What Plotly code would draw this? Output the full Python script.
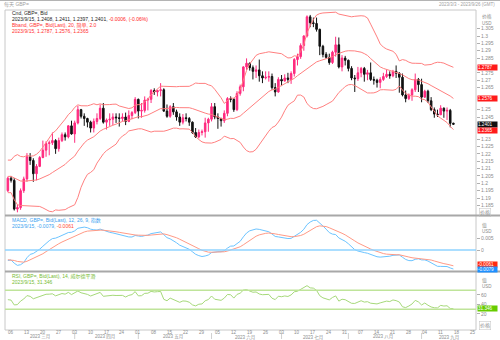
import numpy as np
import pandas as pd
import plotly.graph_objects as go

# Closes used only to warm up the indicators (2023-01-03 .. 2023-03-02)
warmup_close = [
    1.1970, 1.2055, 1.1940, 1.2085, 1.2190, 1.2155, 1.2150, 1.2215, 1.2230, 1.2200,
    1.2290, 1.2350, 1.2390, 1.2395, 1.2370, 1.2335, 1.2410, 1.2400, 1.2395, 1.2325,
    1.2320, 1.2415, 1.2230, 1.2055, 1.2020, 1.2040, 1.2070, 1.2125, 1.2060, 1.2140,
    1.2175, 1.2040, 1.1995, 1.2030, 1.2045, 1.2095, 1.2050, 1.2000, 1.1945, 1.2065,
    1.2025, 1.2035, 1.1950,
]

# Daily GBP/USD bid candles, 2023-03-03 .. 2023-09-15
open_ = [
    1.1950, 1.2035, 1.2020, 1.1825, 1.1835, 1.1950, 1.2030, 1.2180, 1.2155, 1.2065,
    1.2115, 1.2175, 1.2225, 1.2270, 1.2275, 1.2290, 1.2235, 1.2290, 1.2330, 1.2315,
    1.2390,
    1.2335, 1.2410, 1.2500, 1.2455, 1.2440, 1.2415, 1.2375, 1.2420, 1.2440, 1.2510,
    1.2415, 1.2430, 1.2435, 1.2450, 1.2445, 1.2440, 1.2450, 1.2420, 1.2460, 1.2480,
    1.2570, 1.2490, 1.2495, 1.2565, 1.2570, 1.2630, 1.2620, 1.2630, 1.2635, 1.2490,
    1.2455, 1.2520, 1.2485, 1.2450, 1.2415, 1.2445, 1.2440, 1.2415, 1.2345, 1.2315,
    1.2345, 1.2350, 1.2410,
    1.2435, 1.2520, 1.2450, 1.2440, 1.2425, 1.2475, 1.2575, 1.2570, 1.2500, 1.2610,
    1.2655, 1.2790, 1.2815, 1.2785, 1.2760, 1.2770, 1.2730, 1.2715, 1.2720, 1.2725,
    1.2650, 1.2620,
    1.2705, 1.2695, 1.2715, 1.2705, 1.2745, 1.2840, 1.2860, 1.2935, 1.3000, 1.3130,
    1.3090, 1.3085, 1.3045, 1.2930, 1.2875, 1.2855, 1.2820, 1.2890, 1.2940, 1.2790,
    1.2850,
    1.2835, 1.2780, 1.2715, 1.2710, 1.2750, 1.2780, 1.2740, 1.2750, 1.2705, 1.2700,
    1.2685, 1.2705, 1.2725, 1.2740, 1.2730, 1.2760, 1.2747, 1.2720, 1.2600, 1.2575,
    1.2600, 1.2635, 1.2705,
    1.2670, 1.2585, 1.2625, 1.2560, 1.2500, 1.2470, 1.2465, 1.2510, 1.2490, 1.2495,
    1.2408,
]
high = [
    1.2045, 1.2050, 1.2035, 1.1855, 1.1965, 1.2045, 1.2205, 1.2205, 1.2170, 1.2130,
    1.2185, 1.2290, 1.2285, 1.2290, 1.2345, 1.2300, 1.2310, 1.2345, 1.2345, 1.2395,
    1.2425,
    1.2425, 1.2525, 1.2505, 1.2475, 1.2445, 1.2425, 1.2440, 1.2475, 1.2535, 1.2545,
    1.2440, 1.2475, 1.2475, 1.2475, 1.2475, 1.2475, 1.2480, 1.2495, 1.2490, 1.2585,
    1.2575, 1.2545, 1.2590, 1.2580, 1.2640, 1.2645, 1.2635, 1.2680, 1.2645, 1.2535,
    1.2530, 1.2545, 1.2500, 1.2475, 1.2470, 1.2475, 1.2450, 1.2420, 1.2375, 1.2365,
    1.2365, 1.2445, 1.2445,
    1.2545, 1.2545, 1.2475, 1.2445, 1.2495, 1.2585, 1.2590, 1.2580, 1.2625, 1.2670,
    1.2795, 1.2848, 1.2820, 1.2800, 1.2800, 1.2840, 1.2760, 1.2760, 1.2760, 1.2745,
    1.2680, 1.2720,
    1.2735, 1.2740, 1.2750, 1.2760, 1.2850, 1.2880, 1.2950, 1.3005, 1.3140, 1.3143,
    1.3125, 1.3125, 1.3050, 1.2940, 1.2890, 1.2880, 1.2900, 1.2995, 1.2990, 1.2870,
    1.2865,
    1.2840, 1.2795, 1.2735, 1.2790, 1.2790, 1.2790, 1.2770, 1.2820, 1.2725, 1.2710,
    1.2720, 1.2750, 1.2770, 1.2760, 1.2770, 1.2800, 1.2755, 1.2745, 1.2630, 1.2610,
    1.2645, 1.2745, 1.2715,
    1.2710, 1.2635, 1.2635, 1.2585, 1.2515, 1.2500, 1.2530, 1.2515, 1.2515, 1.2505,
    1.2411,
]
low = [
    1.1940, 1.2005, 1.1815, 1.1803, 1.1820, 1.1935, 1.2010, 1.2125, 1.2010, 1.2020,
    1.2110, 1.2170, 1.2180, 1.2190, 1.2260, 1.2200, 1.2215, 1.2280, 1.2290, 1.2305,
    1.2330,
    1.2275, 1.2400, 1.2440, 1.2390, 1.2380, 1.2345, 1.2345, 1.2400, 1.2430, 1.2405,
    1.2365, 1.2390, 1.2395, 1.2410, 1.2385, 1.2420, 1.2395, 1.2415, 1.2435, 1.2470,
    1.2440, 1.2445, 1.2480, 1.2495, 1.2545, 1.2600, 1.2590, 1.2590, 1.2485, 1.2445,
    1.2445, 1.2465, 1.2425, 1.2390, 1.2400, 1.2420, 1.2390, 1.2335, 1.2308, 1.2305,
    1.2325, 1.2310, 1.2350,
    1.2420, 1.2435, 1.2370, 1.2385, 1.2410, 1.2455, 1.2550, 1.2485, 1.2490, 1.2595,
    1.2625, 1.2770, 1.2765, 1.2705, 1.2715, 1.2690, 1.2680, 1.2705, 1.2690, 1.2635,
    1.2590, 1.2615,
    1.2660, 1.2690, 1.2680, 1.2675, 1.2725, 1.2800, 1.2845, 1.2900, 1.2990, 1.3060,
    1.3060, 1.3030, 1.2870, 1.2855, 1.2845, 1.2805, 1.2810, 1.2860, 1.2780, 1.2760,
    1.2800,
    1.2760, 1.2700, 1.2620, 1.2695, 1.2720, 1.2690, 1.2700, 1.2695, 1.2670, 1.2650,
    1.2645, 1.2695, 1.2715, 1.2710, 1.2720, 1.2715, 1.2615, 1.2590, 1.2550, 1.2565,
    1.2560, 1.2620, 1.2620,
    1.2550, 1.2580, 1.2545, 1.2490, 1.2445, 1.2450, 1.2465, 1.2445, 1.2430, 1.2380,
    1.2397,
]
close = [
    1.2035, 1.2020, 1.1825, 1.1835, 1.1950, 1.2030, 1.2180, 1.2155, 1.2065, 1.2115,
    1.2175, 1.2225, 1.2270, 1.2275, 1.2290, 1.2235, 1.2290, 1.2330, 1.2315, 1.2390,
    1.2335,
    1.2410, 1.2500, 1.2455, 1.2440, 1.2415, 1.2375, 1.2420, 1.2440, 1.2510, 1.2415,
    1.2430, 1.2435, 1.2450, 1.2445, 1.2440, 1.2450, 1.2420, 1.2460, 1.2480, 1.2570,
    1.2490, 1.2495, 1.2565, 1.2570, 1.2630, 1.2620, 1.2630, 1.2635, 1.2490, 1.2455,
    1.2520, 1.2485, 1.2450, 1.2415, 1.2445, 1.2440, 1.2415, 1.2345, 1.2315, 1.2345,
    1.2350, 1.2410, 1.2435,
    1.2520, 1.2450, 1.2440, 1.2425, 1.2475, 1.2575, 1.2570, 1.2500, 1.2610, 1.2655,
    1.2790, 1.2815, 1.2785, 1.2760, 1.2770, 1.2730, 1.2715, 1.2720, 1.2725, 1.2650,
    1.2620, 1.2705,
    1.2695, 1.2715, 1.2705, 1.2745, 1.2840, 1.2860, 1.2935, 1.3000, 1.3130, 1.3090,
    1.3085, 1.3045, 1.2930, 1.2875, 1.2855, 1.2820, 1.2890, 1.2940, 1.2790, 1.2850,
    1.2835,
    1.2780, 1.2715, 1.2710, 1.2750, 1.2780, 1.2740, 1.2750, 1.2705, 1.2700, 1.2685,
    1.2705, 1.2725, 1.2740, 1.2730, 1.2760, 1.2747, 1.2720, 1.2600, 1.2575, 1.2600,
    1.2635, 1.2705, 1.2670,
    1.2585, 1.2625, 1.2560, 1.2500, 1.2470, 1.2465, 1.2510, 1.2490, 1.2495, 1.2407,
    1.2401,
]

# latest readings printed by the data terminal for 2023/9/15
last_bands = [1.2787, 1.2576, 1.2365]
last_macd, last_signal = -0.0079, -0.0061
last_rsi = 31.346

first_day, last_day, axis_end = "2023-03-03", "2023-09-15", "2023-09-26"
month_names = {3: "三月", 4: "四月", 5: "五月", 6: "六月", 7: "七月", 8: "八月", 9: "九月"}
price_ticks = [round(1.185 + 0.005 * k, 3) for k in range(25)]

PINK = "#ff2a7f"
BAND = "#ff7f7f"
MACD_C = "#6cc4ff"
SIG_C = "#ff9a86"
RSI_C = "#a6d97a"
GRAY = "#8c8c8c"
FONT = "Liberation Sans, Arial, Noto Sans CJK SC, sans-serif"

# axis scales of the three panels
PRICE_RANGE = [1.17848, 1.31765]
MACD_RANGE = [-0.00875, 0.01417]
RSI_RANGE = [-13.8, 108.3]

days = pd.bdate_range(first_day, last_day)
axis_days = pd.bdate_range(first_day, axis_end)
xi = np.arange(len(close))

# indicators
allc = pd.Series(warmup_close + close)
mid = allc.rolling(20).mean()
sd = allc.rolling(20).std(ddof=0)
upper, lower = mid + 2 * sd, mid - 2 * sd
macd = allc.ewm(span=12, adjust=False).mean() - allc.ewm(span=26, adjust=False).mean()
signal = macd.ewm(span=9, adjust=False).mean()
delta = allc.diff()
gain = delta.clip(lower=0).ewm(alpha=1 / 14, adjust=False).mean()
loss = (-delta.clip(upper=0)).ewm(alpha=1 / 14, adjust=False).mean()
rsi = 100 - 100 / (1 + gain / loss)
n0 = len(warmup_close)
upper, mid, lower = upper[n0:].values, mid[n0:].values, lower[n0:].values
macd, signal, rsi = macd[n0:].values, signal[n0:].values, rsi[n0:].values

# pixel helpers (plot area spans x 5..476, y 10..330)
def PX(px):
    return (px - 5) / 471.0

def PY(py):
    return (330 - py) / 320.0

def value_py(v, rng, top, bottom):
    return top + (rng[1] - v) / (rng[1] - rng[0]) * (bottom - top)

def price_py(v):
    return value_py(v, PRICE_RANGE, 10, 215)

fig = go.Figure()
fig.add_trace(go.Candlestick(
    x=xi, open=open_, high=high, low=low, close=close,
    increasing=dict(line=dict(color=PINK, width=1), fillcolor=PINK),
    decreasing=dict(line=dict(color="#111111", width=1), fillcolor="#111111"),
    whiskerwidth=0, xaxis="x", yaxis="y", hoverinfo="skip"))
for band in (upper, mid, lower):
    fig.add_trace(go.Scatter(x=xi, y=band, mode="lines", line=dict(color=BAND, width=1),
                             xaxis="x", yaxis="y", hoverinfo="skip"))
fig.add_trace(go.Scatter(x=xi, y=macd, mode="lines", line=dict(color=MACD_C, width=1),
                         xaxis="x2", yaxis="y2"))
fig.add_trace(go.Scatter(x=xi, y=signal, mode="lines", line=dict(color=SIG_C, width=1),
                         xaxis="x2", yaxis="y2"))
fig.add_trace(go.Scatter(x=xi, y=rsi, mode="lines", line=dict(color=RSI_C, width=1),
                         xaxis="x3", yaxis="y3"))

# price tick labels that sit under a value tag are left out, as on the terminal
tag_rows = [price_py(v) for v in last_bands + [close[-1]]]
shown_ticks = [t for t in price_ticks if all(abs(price_py(t) - r) > 4 for r in tag_rows)]

xrange = [-0.9, len(axis_days) - 1 + 0.1]
xcommon = dict(range=xrange, showgrid=False, zeroline=False, showticklabels=False,
               showline=False, ticks="")
ycommon = dict(side="right", showgrid=False, zeroline=False, showline=False,
               ticks="outside", ticklen=3, tickcolor="#b0b0b0", tickwidth=1,
               tickfont=dict(size=5, color=GRAY, family=FONT))

fig.update_layout(
    width=500, height=340, margin=dict(l=5, r=24, t=10, b=10),
    paper_bgcolor="white", plot_bgcolor="white", showlegend=False,
    font=dict(family=FONT, size=5, color=GRAY),
    xaxis=dict(**xcommon, anchor="y", rangeslider=dict(visible=False)),
    xaxis2=dict(**xcommon, anchor="y2", matches="x"),
    xaxis3=dict(**xcommon, anchor="y3", matches="x"),
    yaxis=dict(**ycommon, domain=[PY(215), 1], range=PRICE_RANGE,
               tickvals=shown_ticks, ticktext=[f"{v:g}" for v in shown_ticks]),
    yaxis2=dict(**ycommon, domain=[PY(271), PY(216)], range=MACD_RANGE,
                tickvals=[0, 0.005], ticktext=["0", "0.005"]),
    yaxis3=dict(**ycommon, domain=[0, PY(272)], range=RSI_RANGE,
                tickvals=[20, 40, 60], ticktext=["20", "40", "60"]),
)

shapes = [
    dict(type="line", xref="paper", yref="paper", x0=PX(0), x1=PX(500), y0=PY(0.5), y1=PY(0.5),
         line=dict(color="#b4b4b4", width=1)),
    dict(type="rect", xref="paper", yref="paper", x0=0, x1=1, y0=0, y1=1,
         line=dict(color="#c8c8c8", width=1)),
    dict(type="line", xref="paper", yref="paper", x0=PX(5), x1=PX(500), y0=PY(215.5), y1=PY(215.5),
         line=dict(color="#a8a8a8", width=2)),
    dict(type="line", xref="paper", yref="paper", x0=PX(5), x1=PX(500), y0=PY(271.5), y1=PY(271.5),
         line=dict(color="#a8a8a8", width=2)),
    dict(type="line", xref="paper", yref="y2", x0=0, x1=1, y0=0, y1=0,
         line=dict(color="#8fd3ff", width=1.5)),
    dict(type="line", xref="paper", yref="y3", x0=0, x1=1, y0=70, y1=70,
         line=dict(color="#bfe49a", width=1.5)),
    dict(type="line", xref="paper", yref="y3", x0=0, x1=1, y0=30, y1=30,
         line=dict(color="#bfe49a", width=1.5)),
]

ann = []

def note(text, px, py, size=5, color=GRAY, xanchor="left", **kw):
    ann.append(dict(text=text, x=PX(px), y=PY(py), xref="paper", yref="paper",
                    xanchor=xanchor, yanchor="middle", showarrow=False,
                    font=dict(size=size, color=color, family=FONT), **kw))

def tag(text, py, bg):
    note(text, 476.5, py, size=4.6, color="white", bgcolor=bg, width=19, height=5,
         borderpad=0, align="left")

# weekly date labels and month labels along the bottom
for i, d in enumerate(axis_days):
    if d.weekday() == 0:
        ann.append(dict(text=d.strftime("%d"), x=i, y=PY(332), xref="x3", yref="paper",
                        showarrow=False, xanchor="center", yanchor="middle",
                        font=dict(size=4.5, color=GRAY, family=FONT)))
starts = [i for i, d in enumerate(axis_days) if i == 0 or d.month != axis_days[i - 1].month]
bounds = starts + [len(axis_days)]
for k, s in enumerate(starts):
    m = axis_days[s].month
    ann.append(dict(text=f"2023 {month_names[m]}", x=(s + bounds[k + 1]) / 2 - 0.5, y=PY(337),
                    xref="x3", yref="paper", showarrow=False, xanchor="center", yanchor="middle",
                    font=dict(size=4.5, color=GRAY, family=FONT)))
    if s > 0:
        shapes.append(dict(type="line", xref="x3", yref="paper", x0=s, x1=s,
                           y0=PY(333), y1=PY(339), line=dict(color="#d0d0d0", width=1)))

# header line and date span
note("每天 GBP=", 2, 4.5, size=5, color="#a0a0a0")
note("2023/3/3 - 2023/9/26 (GMT)", 497, 4.5, size=4.5, color="#a0a0a0", xanchor="right")

# panel legends
note("Cnd, GBP=, Bid", 10, 13, color="#222222")
note("2023/9/15, 1.2408, 1.2411, 1.2397, 1.2401, <span style='color:#ff2020'>-0.0006, (-0.06%)</span>",
     10, 19, color="#222222")
note("Bband, GBP=, Bid(Last), 20, 简单, 2.0", 10, 25, color="#ff3030")
note("2023/9/15, " + ", ".join(f"{v:.4f}" for v in last_bands), 10, 31, color="#ff3030")
note("MACD, GBP=, Bid(Last), 12, 26, 9, 指数", 10, 220, color="#3a9ff0")
note(f"2023/9/15, {last_macd:.4f}, <span style='color:#ff4a30'>{last_signal:.4f}</span>",
     10, 226, color="#3a9ff0")
note("RSI, GBP=, Bid(Last), 14, 威尔德平滑", 10, 276, color="#77bb33")
note(f"2023/9/15, {last_rsi:.3f}", 10, 282, color="#77bb33")

# right-side headers
note("价格", 480, 16.5, size=4.8)
note("USD", 480, 23, size=4.5)
note("值", 480, 225, size=4.8)
note("USD", 480, 231.5, size=4.5)
note("值", 480, 280, size=4.8)
note("USD", 480, 286, size=4.5)
note("价格", 479, 212.5, bordercolor="#c0c0c0", borderwidth=0.5, borderpad=0.5)
note("价格", 479, 325, bordercolor="#c0c0c0", borderwidth=0.5, borderpad=0.5)

# latest-value tags
tag(f"{last_bands[0]:.4f}", price_py(last_bands[0]), "#ff1a1a")
tag(f"{last_bands[1]:.4f}", price_py(last_bands[1]), "#ff1a1a")
tag(f"{close[-1]:.4f}", price_py(close[-1]), "#111111")
tag(f"{last_bands[2]:.4f}", price_py(last_bands[2]) + 1, "#ff1a1a")
tag(f"{last_signal:.4f}", value_py(last_signal, MACD_RANGE, 216, 271) - 0.5, "#ff2a10")
tag(f"{last_macd:.4f}", value_py(last_macd, MACD_RANGE, 216, 271) + 0.5, "#1e90ff")
tag(f"{last_rsi:.3f}", value_py(last_rsi, RSI_RANGE, 272, 330), "#66cc00")

fig.update_layout(shapes=shapes, annotations=ann)
fig.write_html("out.html")
